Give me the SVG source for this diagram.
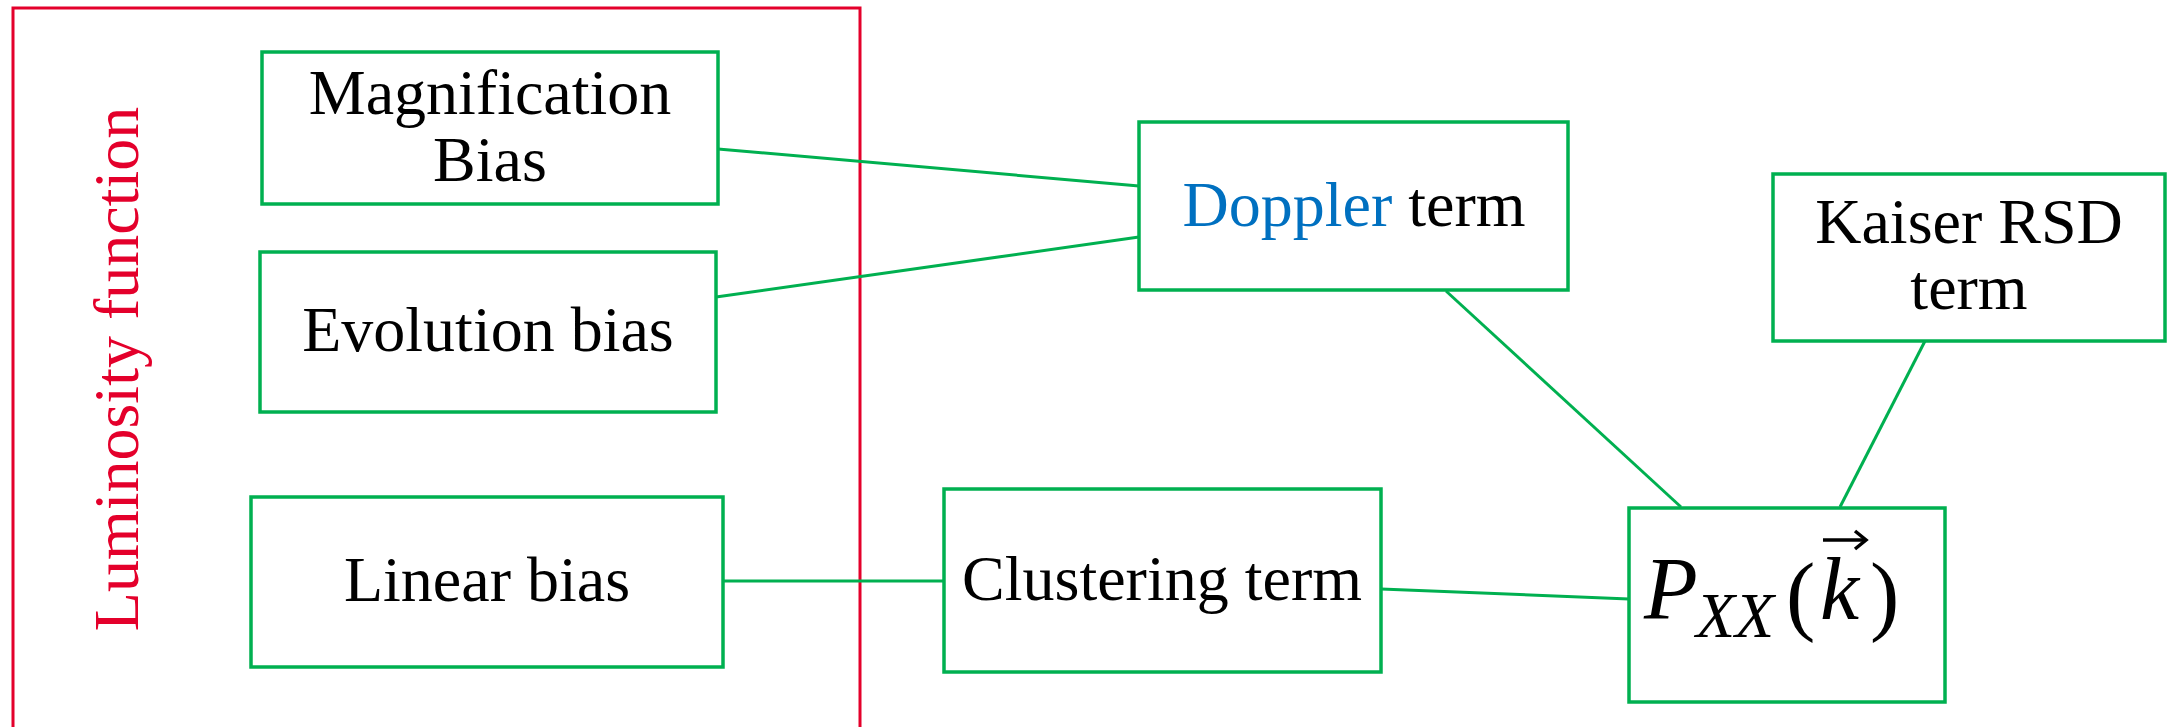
<svg xmlns="http://www.w3.org/2000/svg" width="2167" height="727" viewBox="0 0 2167 727">
<style>
.box{fill:#fff;stroke:#00B050;stroke-width:3.5}
.t{font-family:"Liberation Serif","Times New Roman",serif;font-size:64px;fill:#000;text-anchor:middle}
.m{font-family:"Liberation Serif","Times New Roman",serif;fill:#000;font-size:88px}
.c{stroke:#00B050;stroke-width:3;fill:none}
</style>
<rect width="2167" height="727" fill="#fff"/>
<g id="luminosity">
<rect x="13" y="8" width="847" height="740" fill="none" stroke="#E4002B" stroke-width="3"/>
<text class="t" transform="translate(138,369) rotate(-90)" style="fill:#E4002B">Luminosity function</text>
</g>
<g id="connectors">
<line class="c" x1="718" y1="149" x2="1139" y2="186"/>
<line class="c" x1="716" y1="297" x2="1139" y2="237"/>
<line class="c" x1="723" y1="581" x2="944" y2="581"/>
<line class="c" x1="1381" y1="589" x2="1629" y2="599"/>
<line class="c" x1="1446" y1="291" x2="1681" y2="507"/>
<line class="c" x1="1925" y1="341" x2="1840" y2="507"/>
</g>
<g id="magnification">
<rect class="box" x="262" y="52" width="456" height="152"/>
<text class="t" x="490" y="114">Magnification</text>
<text class="t" x="490" y="181">Bias</text>
</g>
<g id="evolution">
<rect class="box" x="260" y="252" width="456" height="160"/>
<text class="t" x="488" y="351">Evolution bias</text>
</g>
<g id="linear">
<rect class="box" x="251" y="497" width="472" height="170"/>
<text class="t" x="487" y="601">Linear bias</text>
</g>
<g id="doppler">
<rect class="box" x="1139" y="122" width="429" height="168"/>
<text class="t" x="1354" y="226"><tspan fill="#0070C0">Doppler</tspan> term</text>
</g>
<g id="kaiser">
<rect class="box" x="1773" y="174" width="392" height="167"/>
<text class="t" x="1969" y="243">Kaiser RSD</text>
<text class="t" x="1969" y="309">term</text>
</g>
<g id="clustering">
<rect class="box" x="944" y="489" width="437" height="183"/>
<text class="t" x="1162" y="600">Clustering term</text>
</g>
<g id="power">
<rect class="box" x="1629" y="508" width="316" height="194"/>
<text class="m"><tspan x="1644" y="618" font-style="italic">P</tspan><tspan x="1696" y="637" font-size="64" font-style="italic">XX</tspan><tspan x="1786" y="624">(</tspan><tspan x="1820" y="619" font-style="italic">k</tspan><tspan x="1870" y="624">)</tspan></text>
<line x1="1823" y1="540" x2="1864" y2="540" stroke="#000" stroke-width="3.5"/>
<polyline points="1855,531 1866,540 1855,549" fill="none" stroke="#000" stroke-width="3.5"/>
</g>
</svg>
